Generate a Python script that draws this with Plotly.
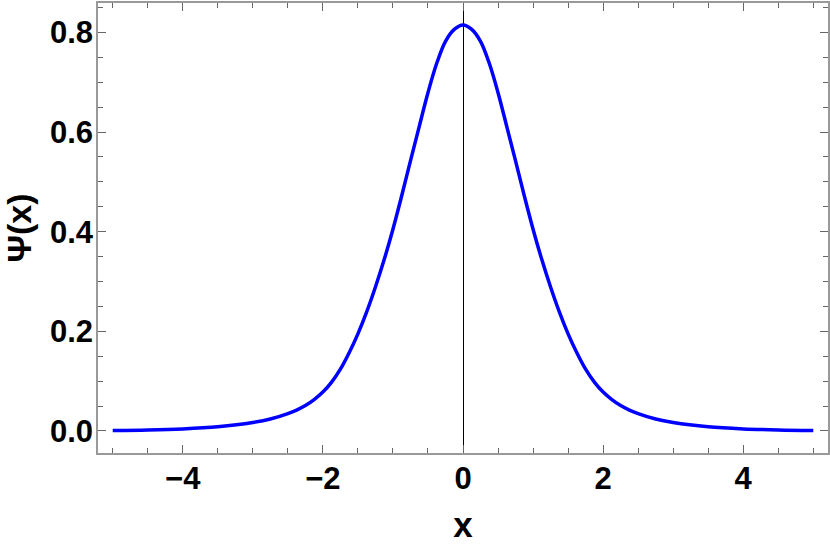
import plotly.graph_objects as go

# values (right half; the curve is symmetric)
x_half = [0.0, 0.125, 0.25, 0.375, 0.5, 0.625, 0.75, 0.875, 1.0, 1.125,
          1.25, 1.375, 1.5, 1.625, 1.75, 1.875, 2.0, 2.125, 2.25, 2.375,
          2.5, 2.75, 3.0, 3.5, 4.0, 4.5, 5.0]
psi_half = [0.815, 0.806, 0.782, 0.738, 0.679, 0.611, 0.542, 0.472, 0.405, 0.344,
            0.289, 0.239, 0.195, 0.157, 0.124, 0.098, 0.078, 0.063, 0.051, 0.042,
            0.035, 0.024, 0.017, 0.0085, 0.0042, 0.002, 0.001]

x_vals = [-v for v in x_half[:0:-1]] + x_half
psi_vals = psi_half[:0:-1] + psi_half

x_ticks = [-4, -2, 0, 2, 4]
y_ticks = [0.0, 0.2, 0.4, 0.6, 0.8]

FONT = "Liberation Sans, Arial, sans-serif"
FRAME = "#999999"

fig = go.Figure()
fig.add_trace(go.Scatter(x=x_vals, y=psi_vals, mode="lines",
                         line=dict(color="#0000ff", width=3.5, shape="spline", smoothing=1.0),
                         hoverinfo="skip"))

axis_common = dict(showline=True, linecolor=FRAME, linewidth=1.5, mirror="ticks",
                   ticks="inside", tickcolor="#666666", tickwidth=1, ticklen=8,
                   showgrid=False, automargin=False,
                   tickfont=dict(family=FONT, size=31, color="black", weight="bold"))

fig.update_xaxes(range=[-5.21, 5.21], tickvals=x_ticks,
                 ticktext=[("\u2212" + str(-t)) if t < 0 else str(t) for t in x_ticks],
                 zeroline=True, zerolinecolor="black", zerolinewidth=1.2,
                 minor=dict(ticks="inside", dtick=0.5, tick0=0, ticklen=5, tickcolor="#666666"),
                 ticklabelstandoff=-3,
                 title=dict(text="x", font=dict(family=FONT, size=35, color="black", weight="bold"),
                            standoff=18),
                 **axis_common)
fig.update_yaxes(range=[-0.0442, 0.859], tickvals=y_ticks,
                 ticktext=["%.1f" % t for t in y_ticks],
                 zeroline=False,
                 minor=dict(ticks="inside", dtick=0.05, tick0=0, ticklen=5, tickcolor="#666666"),
                 ticklabelstandoff=-3,
                 title=dict(text="\u03a8(x)", font=dict(family=FONT, size=34, color="black", weight="bold"),
                            standoff=16),
                 **axis_common)

fig.update_layout(width=830, height=549, showlegend=False,
                  plot_bgcolor="white", paper_bgcolor="white",
                  margin=dict(l=98, r=2, t=3, b=96))

# drop the browser's default body margin so the figure sits at the page corner
fig.write_html("out.html", config={"displayModeBar": False},
               post_script="document.body.style.margin='0';")
